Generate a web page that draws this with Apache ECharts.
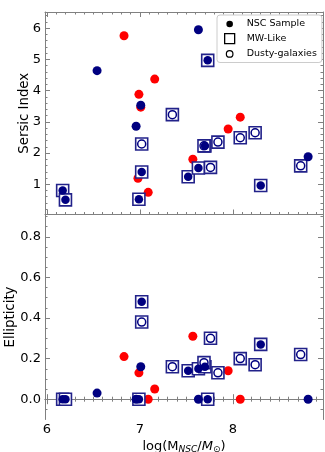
<!DOCTYPE html>
<html>
<head>
<meta charset="utf-8">
<script src="https://cdn.jsdelivr.net/npm/echarts@6/dist/echarts.min.js"></script>
<style>
html, body { margin: 0; padding: 0; background: #fff; }
#chart { width: 325px; height: 452px; }
</style>
</head>
<body>
<div id="chart"></div>
<script>
// x = log(M_NSC / M_sun), n = Sersic index, e = ellipticity
var nscX = [6.54, 6.96, 7.01, 7.63, 8.81]
var nscN = [4.64, 2.86, 3.53, 5.95, 1.88]
var nscE = [0.03, 0.00, 0.16, 0.00, 0.00]

var redX = [6.83, 6.99, 7.01, 6.98, 7.16, 7.09, 7.57, 7.95, 8.08]
var redN = [5.76, 3.88, 3.47, 1.19, 4.37, 0.74, 1.80, 2.77, 3.15]
var redE = [0.21, 0.13, 0.00, 0.00, 0.05, 0.00, 0.31, 0.14, 0.00]

// MW-like with filled NSC marker
var mwX = [6.17, 6.20, 6.99, 7.02, 7.52, 7.63, 7.70, 7.73, 8.30]
var mwN = [0.80, 0.50, 0.52, 1.39, 1.24, 1.52, 2.23, 4.97, 0.96]
var mwE = [0.00, 0.00, 0.00, 0.48, 0.14, 0.15, 0.16, 0.00, 0.27]

// MW-like dusty galaxies (open circle)
var dustyX = [7.02, 7.35, 7.84, 7.76, 8.08, 8.24, 8.73, 7.69]
var dustyN = [2.29, 3.23, 2.35, 1.54, 2.49, 2.65, 1.59, 2.23]
var dustyE = [0.38, 0.16, 0.13, 0.30, 0.20, 0.17, 0.22, 0.18]

var xTicks = [6, 7, 8]
var sersicTicks = [1, 2, 3, 4, 5, 6]
var ellipTicks = [0, 0.2, 0.4, 0.6, 0.8]
var legendNames = ['NSC Sample', 'MW-Like', 'Dusty-galaxies']

var FONT = 'DejaVu Sans'
var NAVY = '#000080'
var SPINE = '#808080'
// small circle inside a 10x10 box so the legend keeps it smaller than the square
var SMALL_DOT = 'path://M0,0M10,10M8.3,5A3.3,3.3,0,1,1,1.7,5A3.3,3.3,0,1,1,8.3,5Z'

function zip(a, b) {
  return a.map(function (v, i) { return [v, b[i]] })
}

function steps(from, to, step) {
  var out = []
  for (var v = from; v <= to + 1e-9; v += step) out.push(Math.round(v * 1000) / 1000)
  return out
}

// major + minor axes on both sides, ticks pointing in
function axes(kind, grid, min, max, major, minor, labels, fmt, name, extra) {
  var sides = kind === 'x' ? ['bottom', 'top'] : ['left', 'right']
  var out = []
  sides.forEach(function (pos, s) {
    var major_ = {
      type: 'value', gridIndex: grid, position: pos, min: min, max: max,
      axisLine: { show: true, lineStyle: { color: SPINE, width: 1 } },
      axisTick: { inside: true, length: 5, customValues: major, lineStyle: { color: SPINE } },
      axisLabel: {
        show: labels && s === 0, customValues: major, margin: 4,
        color: '#000', fontSize: 13, fontFamily: FONT, formatter: fmt
      },
      splitLine: { show: false }
    }
    if (s === 0 && name) {
      Object.assign(major_, { name: name, nameLocation: 'middle', nameMoveOverlap: false }, extra)
    }
    out.push(major_)
    out.push({
      type: 'value', gridIndex: grid, position: pos, min: min, max: max,
      axisLine: { show: false },
      axisTick: { inside: true, length: 2.5, customValues: minor, lineStyle: { color: SPINE } },
      axisLabel: { show: false },
      splitLine: { show: false }
    })
  })
  return out
}

function scatter(name, grid, xs, ys, opts) {
  return Object.assign({
    type: 'scatter', name: name, xAxisIndex: grid * 4, yAxisIndex: grid * 4,
    data: zip(xs, ys), silent: true
  }, opts)
}

function panel(grid, nsc, red, mw, dusty) {
  return [
    scatter('red', grid, redX, red, { symbolSize: 9, itemStyle: { color: '#ff0000', opacity: 1 } }),
    scatter('MW-Like', grid, mwX.concat(dustyX), mw.concat(dusty), {
      symbol: 'rect', symbolSize: 12,
      itemStyle: { color: '#fff', borderColor: '#22228a', borderWidth: 1.6, opacity: 1 }
    }),
    scatter('Dusty-galaxies', grid, dustyX, dusty, {
      symbolSize: 8, itemStyle: { color: '#fff', borderColor: NAVY, borderWidth: 1.5, opacity: 1 }
    }),
    scatter('NSC Sample', grid, nscX, nsc, { symbolSize: 9, itemStyle: { color: NAVY, opacity: 1 } }),
    scatter('mw-nsc', grid, mwX, mw, { symbolSize: 8.5, itemStyle: { color: NAVY, opacity: 1 } })
  ]
}

var xMinor = steps(6, 8.9, 0.1)
var xRange = [5.98, 8.97]

var option = {
  backgroundColor: '#fff',
  animation: false,
  textStyle: { fontFamily: FONT },
  grid: [
    { left: 45, top: 12, width: 278, height: 202.5, outerBoundsMode: 'none' },
    { left: 45, top: 214.5, width: 278, height: 205, outerBoundsMode: 'none' }
  ],
  xAxis: axes('x', 0, xRange[0], xRange[1], xTicks, xMinor, false, String)
    .concat(axes('x', 1, xRange[0], xRange[1], xTicks, xMinor, true, String,
      '{a|log(M}{s|NSC}{a|/}{i|M}{o|⊙}{a|)}', {
        nameGap: 19,
        nameTextStyle: {
          rich: {
            a: { fontSize: 13, fontFamily: FONT, color: '#000' },
            i: { fontSize: 13, fontFamily: FONT, fontStyle: 'italic', color: '#000' },
            s: { fontSize: 9, fontFamily: FONT, fontStyle: 'italic', color: '#000', padding: [7, 0, 0, 0] },
            o: { fontSize: 9, fontFamily: FONT, color: '#000', padding: [7, 0, 0, 0] }
          }
        }
      })),
  yAxis: axes('y', 0, 0.03, 6.52, sersicTicks, steps(0.2, 6.4, 0.2), true, String,
    'Sersic Index', { nameGap: 14, nameTextStyle: { fontSize: 13.3, fontFamily: FONT, color: '#000' } })
    .concat(axes('y', 1, -0.1, 0.91, ellipTicks, steps(-0.05, 0.9, 0.05), true,
      function (v) { return v.toFixed(1) },
      'Ellipticity', { nameGap: 28, nameTextStyle: { fontSize: 13.3, fontFamily: FONT, color: '#000' } })),
  legend: {
    orient: 'vertical', left: 217, top: 15,
    itemWidth: 10, itemHeight: 10, itemGap: 4,
    padding: [4, 5, 3, 7],
    backgroundColor: '#fff', borderColor: '#cccccc', borderWidth: 1, borderRadius: 3,
    selectedMode: false,
    textStyle: { fontFamily: FONT, fontSize: 9.5, color: '#000', lineHeight: 10, padding: [0, 0, 0, 7] },
    data: [
      { name: legendNames[0], icon: SMALL_DOT, itemStyle: { color: '#000', borderWidth: 0, opacity: 1 } },
      { name: legendNames[1], icon: 'rect', itemStyle: { color: '#fff', borderColor: '#000', borderWidth: 1.3, opacity: 1 } },
      { name: legendNames[2], icon: SMALL_DOT, itemStyle: { color: '#fff', borderColor: '#000', borderWidth: 1.2, opacity: 1 } }
    ]
  },
  series: panel(0, nscN, redN, mwN, dustyN).concat(panel(1, nscE, redE, mwE, dustyE))
}

var myChart = echarts.init(document.getElementById('chart'))
myChart.setOption(option)
</script>
</body>
</html>
